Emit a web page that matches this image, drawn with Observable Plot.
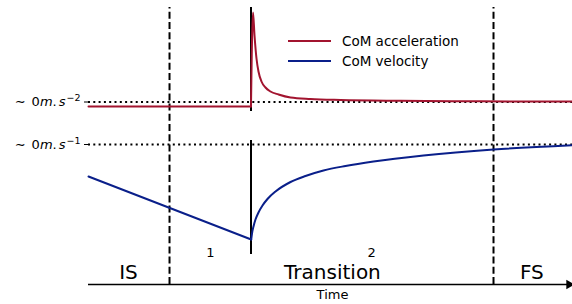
<!DOCTYPE html>
<html>
<head>
<meta charset="utf-8">
<script src="https://cdn.jsdelivr.net/npm/d3@7"></script>
<script src="https://cdn.jsdelivr.net/npm/@observablehq/plot@0.6"></script>
<style>
  body { margin: 0; background: #fff; font-family: "DejaVu Sans", sans-serif; }
  #wrap { position: relative; width: 572px; height: 304px; }
  #legend { position: absolute; left: 288px; top: 31px; font-size: 13.5px; color: #000; }
  #legend .row { display: flex; align-items: center; height: 20px; }
  #legend .sw { width: 43px; height: 2px; margin-right: 11px; }
</style>
</head>
<body>
<div id="wrap">
  <div id="chart"></div>
  <div id="legend"></div>
</div>
<script>
// ---- data (time in arbitrary units 0..10, signal level in arbitrary units) ----
const seriesNames = ["CoM acceleration", "CoM velocity"];
const seriesColors = ["#a2142f", "#0a1f8a"];

// acceleration: flat part, then impulse + decay
const accFlatT = [0, 3.357];
const accFlatV = [17.8, 17.8];
const accDecayT = [3.357, 3.399, 3.430, 3.471, 3.512, 3.574, 3.657, 3.760, 3.926, 4.174, 4.587, 5.207, 6.446, 8.099, 10];
const accDecayV = [17.8, 27.2, 24.9, 22.6, 21.3, 20.3, 19.7, 19.3, 19.0, 18.7, 18.55, 18.45, 18.37, 18.32, 18.3];

// velocity: linear decrease, then recovery
const velLinT = [0, 3.362];
const velLinV = [10.8, 4.5];
const velRecT = [3.362, 3.378, 3.409, 3.450, 3.512, 3.595, 3.698, 3.864, 4.174, 4.483, 4.855, 5.310, 5.888, 6.921, 8.368, 10];
const velRecV = [4.5, 5.1, 5.8, 6.5, 7.2, 7.9, 8.55, 9.3, 10.25, 10.85, 11.4, 11.85, 12.3, 12.9, 13.5, 13.93];

// reference "zero" levels and their labels
const zeroLevels = [18.25, 14.0];
const zeroLabels = ["∼ 0m.s^−2", "∼ 0m.s^−1"];

// phase boundaries
const phaseBoundaries = [1.674, 8.368];
const boundaryTop = 27.7;
const impactT = 3.357;
const impactSegments = [[27.7, 17.3], [14.4, 3.0]];

// phase labels
const phaseLabels = ["IS", "Transition", "FS"];
const phaseLabelT = [0.826, 5.04, 9.16];
const phaseLabelLevel = 0.6;
const subLabels = ["1", "2"];
const subLabelT = [2.52, 5.85];
const subLabelLevel = 3.2;

const axisEndT = 9.93;

// ---- build tables ----
const zip = (ts, vs, seg, s) => ts.map((t, i) => ({t, v: vs[i], seg, s}));
const acc = [...zip(accFlatT, accFlatV, "a", 0), ...zip(accDecayT, accDecayV, "b", 0)];
const vel = [...zip(velLinT, velLinV, "a", 1), ...zip(velRecT, velRecV, "b", 1)];
const impact = impactSegments.map(([a, b]) => ({t: impactT, y1: a, y2: b}));
const phases = phaseLabels.map((l, i) => ({l, t: phaseLabelT[i]}));
const subs = subLabels.map((l, i) => ({l, t: subLabelT[i]}));

const chart = Plot.plot({
  width: 572,
  height: 304,
  marginLeft: 88,
  marginRight: 0,
  marginTop: 0,
  marginBottom: 20,
  style: {fontFamily: "DejaVu Sans, sans-serif", background: "#fff", overflow: "visible"},
  x: {domain: [0, 10], axis: null},
  y: {domain: [0, 28.4], axis: null},
  marks: [
    Plot.ruleY(zeroLevels, {stroke: "#000", strokeWidth: 2, strokeDasharray: "2,3.3"}),
    Plot.ruleX(phaseBoundaries, {y1: 0, y2: boundaryTop, stroke: "#000", strokeWidth: 2, strokeDasharray: "7,3.2"}),
    Plot.ruleX(impact, {x: "t", y1: "y1", y2: "y2", stroke: "#000", strokeWidth: 2}),
    Plot.line(acc, {x: "t", y: "v", z: "seg", stroke: seriesColors[0], strokeWidth: 2, curve: "monotone-x"}),
    Plot.line(vel, {x: "t", y: "v", z: "seg", stroke: seriesColors[1], strokeWidth: 2, curve: "monotone-x"}),
    Plot.ruleY([0], {x1: 0, x2: axisEndT, stroke: "#000", strokeWidth: 1.5}),
    Plot.dot([axisEndT], {x: d => d, y: 0, symbol: "triangle", r: 3.6, rotate: 90, fill: "#000", stroke: "none"}),
    Plot.axisY({ticks: zeroLevels, tickFormat: (d, i) => zeroLabels[i], tickSize: 4, tickPadding: 4, fontSize: 13, label: null}),
    Plot.text(phases, {x: "t", y: phaseLabelLevel, text: "l", fontSize: 20, lineAnchor: "bottom", fill: "#000"}),
    Plot.text(subs, {x: "t", y: subLabelLevel, text: "l", fontSize: 13, lineAnchor: "middle", fill: "#000"}),
    Plot.text(["Time"], {frameAnchor: "bottom", dy: 14, dx: 2, text: d => d, fontSize: 13, fill: "#000"})
  ]
});
document.getElementById("chart").appendChild(chart);

// render mathtext-like tick labels (italic m, s and superscripts)
d3.select(chart).selectAll('g[aria-label="y-axis tick label"] text').each(function(d, i) {
  const label = zeroLabels[i];
  const [base, sup] = label.split("^");
  const el = d3.select(this);
  el.text(null);
  const parts = base.replace(/\s+/g, "");
  for (const ch of parts) {
    const ts = el.append("tspan").text(ch);
    if (ch === "m" || ch === "s") ts.attr("font-style", "italic");
    if (ch === "0") ts.attr("dx", 6);
    if (ch === "s") ts.attr("dx", 2);
  }
  if (sup) el.append("tspan").attr("dy", "-0.5em").attr("dx", 1).attr("font-size", "9.5px").text(sup);
});

// legend
const legend = d3.select("#legend");
seriesNames.forEach((n, i) => {
  const row = legend.append("div").attr("class", "row");
  row.append("div").attr("class", "sw").style("background", seriesColors[i]);
  row.append("span").text(n);
});
</script>
</body>
</html>
